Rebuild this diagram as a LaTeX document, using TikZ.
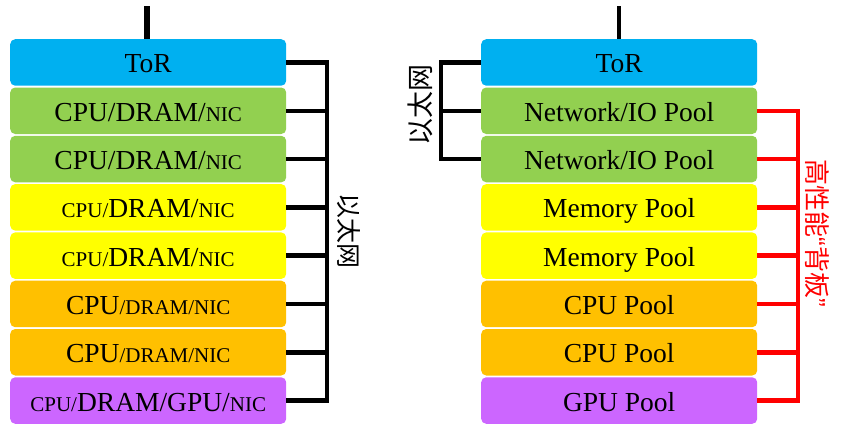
\documentclass[tikz,border=0pt]{standalone}
\usepackage{fontspec}
\setmainfont{Liberation Serif}
\newfontfamily\cjk{Noto Sans CJK SC}
\newfontfamily\quotefont{Liberation Sans}
\newcommand\smtxt[1]{{\fontsize{21}{24}\selectfont #1}}
\definecolor{torc}{HTML}{00B0F0}
\definecolor{grnc}{HTML}{92D050}
\definecolor{yelc}{HTML}{FFFF00}
\definecolor{orgc}{HTML}{FFC000}
\definecolor{purc}{HTML}{CC66FF}
\begin{document}
\begin{tikzpicture}[x=1pt,y=-1pt,
  box/.style={rounded corners=5pt, minimum width=276pt, minimum height=46.5pt,
    inner sep=0pt, anchor=north west, text=black, text height=21pt, text depth=0pt,
    font=\fontsize{27.5}{30}\selectfont},
  eth/.style={line width=4.5pt, black},
  hp/.style={line width=4.5pt, red},
  cjklab/.style={inner sep=0pt, font=\cjk\fontsize{25}{25}\selectfont}]
\useasboundingbox (0,0) rectangle (847,432);
% left column
\node[box, fill=torc] (l0) at (10,39) {ToR};
\node[box, fill=grnc] (l1) at (10,87.3) {CPU/DRAM/\smtxt{NIC}};
\node[box, fill=grnc] (l2) at (10,135.6) {CPU/DRAM/\smtxt{NIC}};
\node[box, fill=yelc] (l3) at (10,183.9) {\smtxt{CPU/}DRAM/\smtxt{NIC}};
\node[box, fill=yelc] (l4) at (10,232.2) {\smtxt{CPU/}DRAM/\smtxt{NIC}};
\node[box, fill=orgc] (l5) at (10,280.5) {CPU\smtxt{/DRAM/NIC}};
\node[box, fill=orgc] (l6) at (10,328.8) {CPU\smtxt{/DRAM/NIC}};
\node[box, fill=purc] (l7) at (10,377.1) {\smtxt{CPU/}DRAM/GPU/\smtxt{NIC}};
% right column
\node[box, fill=torc] (r0) at (481,39) {ToR};
\node[box, fill=grnc] (r1) at (481,87.3) {Network/IO Pool};
\node[box, fill=grnc] (r2) at (481,135.6) {Network/IO Pool};
\node[box, fill=yelc] (r3) at (481,183.9) {Memory Pool};
\node[box, fill=yelc] (r4) at (481,232.2) {Memory Pool};
\node[box, fill=orgc] (r5) at (481,280.5) {CPU Pool};
\node[box, fill=orgc] (r6) at (481,328.8) {CPU Pool};
\node[box, fill=purc] (r7) at (481,377.1) {GPU Pool};
% uplinks
\coordinate (ltop) at (147,6);
\coordinate (rtop) at (619,6);
\draw[line width=5.5pt] (ltop) -- (ltop |- l0.north);
\draw[line width=4.5pt] (rtop) -- (rtop |- r0.north);
% left ethernet bracket
\coordinate (Lsp) at (327,0);
\draw[eth] (l0.east) -| (Lsp |- l7.east) -- (l7.east);
\foreach \i in {1,...,6} { \draw[eth] (l\i.east) -- (l\i.east -| Lsp); }
\node[cjklab, rotate=-90] (lab1) at (349,231) {以太网};
% right ethernet bracket
\coordinate (Rsp) at (441,0);
\draw[eth] (r0.west) -| (Rsp |- r2.west) -- (r2.west);
\draw[eth] (r1.west) -- (r1.west -| Rsp);
\node[cjklab, rotate=90, font=\cjk\fontsize{27}{27}\selectfont] (lab2) at (420,105) {以太网};
% red backplane bracket
\coordinate (Hsp) at (798,0);
\draw[hp] (r1.east) -| (Hsp |- r7.east) -- (r7.east);
\foreach \i in {2,...,6} { \draw[hp] (r\i.east) -- (r\i.east -| Hsp); }
\node[cjklab, rotate=-90, text=red, font=\cjk\fontsize{26}{26}\selectfont] (lab3) at (817,233) {高性能{\quotefont “}背板{\quotefont ”}};
\end{tikzpicture}
\end{document}
